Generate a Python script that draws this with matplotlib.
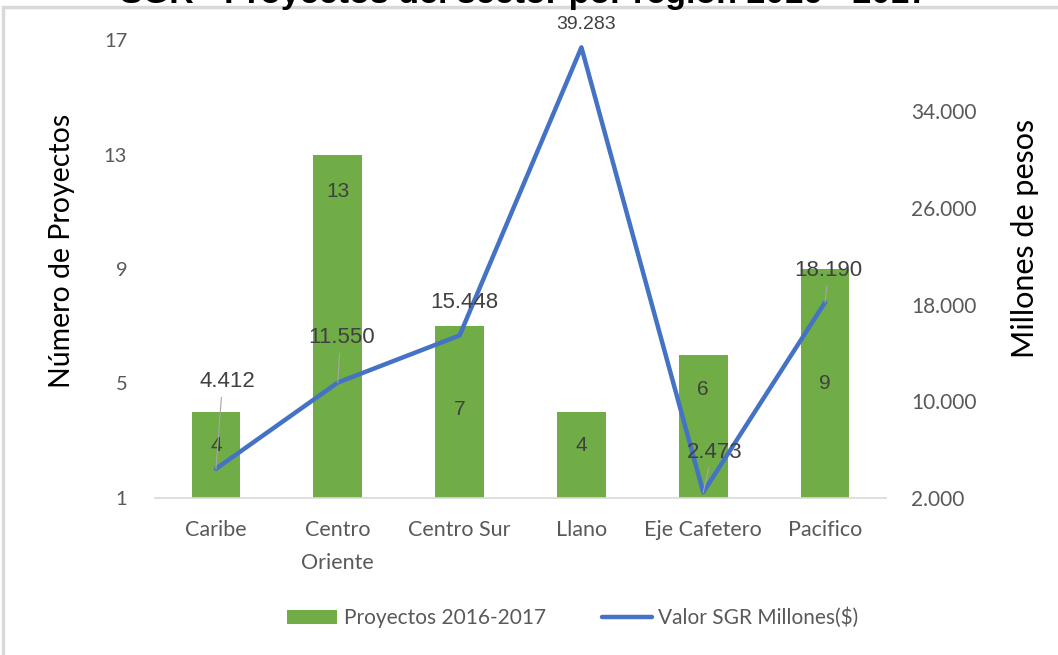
import matplotlib
matplotlib.use("Agg")
import matplotlib.pyplot as plt
from matplotlib.patches import Rectangle
import numpy as np

categories = ["Caribe", "Centro\nOriente", "Centro Sur", "Llano", "Eje Cafetero", "Pacifico"]
proyectos = [4, 13, 7, 4, 6, 9]
valor_sgr = [4412, 11550, 15448, 39283, 2473, 18190]
valor_labels = ["4.412", "11.550", "15.448", "39.283", "2.473", "18.190"]
left_ticks = [1, 5, 9, 13, 17]
right_ticks = [2000, 10000, 18000, 26000, 34000]
right_tick_labels = ["2.000", "10.000", "18.000", "26.000", "34.000"]

GREEN = "#70AD47"
BLUE = "#4472C4"
GRAY = "#595959"
TXT = "#404040"
FONT = ["Lato", "DejaVu Sans"]
NUMFONT = ["Liberation Sans", "DejaVu Sans"]

fig = plt.figure(figsize=(10.58, 6.55), dpi=100)

# chart border (frame partly outside the picture)
fig.patches.append(Rectangle((3 / 1058, -0.1), 1.2, 1 - 7 / 655 + 0.1,
                             transform=fig.transFigure, fill=False,
                             edgecolor="#D9D9D9", linewidth=2.5, zorder=0))

# clipped title
fig.text(524 / 1058, 1 - 3 / 655, "SGR - Proyectos del sector por región 2016 - 2017",
         ha="center", va="baseline", fontsize=24.5, fontweight="bold",
         family=["Liberation Sans", "DejaVu Sans"], color="black")

ax = fig.add_axes([155 / 1058, 1 - 498 / 655, (886 - 155) / 1058, (498 - 40) / 655])
ax2 = ax.twinx()

x = np.arange(len(categories))
ax.bar(x, proyectos, width=0.4, color=GREEN, zorder=2, label="Proyectos 2016-2017")
ax.set_ylim(1, 17)
ax.set_xlim(-0.5, len(categories) - 0.5)
ax.set_yticks(left_ticks)
ax.set_xticks(x)
ax.set_xticklabels(categories, family=FONT, fontsize=15.5, color=GRAY, linespacing=1.8)
for lab in ax.get_yticklabels():
    lab.set_family(FONT)
    lab.set_fontsize(14.5)
    lab.set_color(GRAY)
ax.tick_params(axis="both", length=0)
ax.tick_params(axis="y", pad=20)
ax.tick_params(axis="x", pad=16)
for s in ["top", "right", "left"]:
    ax.spines[s].set_visible(False)
ax.spines["bottom"].set_color("#D9D9D9")
ax.spines["bottom"].set_linewidth(1.2)

ax2.plot(x, valor_sgr, color=BLUE, linewidth=3.2, zorder=3,
         solid_capstyle="round", solid_joinstyle="round", label="Valor SGR Millones($)")
ax2.set_ylim(2000, 2000 + 8000 * (458 / 96.7))
ax2.set_yticks(right_ticks)
ax2.set_yticklabels(right_tick_labels, family=FONT, fontsize=15, color=GRAY)
ax2.tick_params(axis="y", length=0, pad=18)
for s in ["top", "right", "left", "bottom"]:
    ax2.spines[s].set_visible(False)

ax.set_zorder(1)
ax2.set_zorder(2)
ax.patch.set_visible(False)

# bar labels (positions in data units as placed in the original)
bar_label_y = [2.85, 11.7, 4.1, 2.85, 4.8, 5.0]
for xi, v, yy in zip(x, proyectos, bar_label_y):
    ax.text(xi, yy, str(v), ha="center", va="center", fontsize=15,
            family=NUMFONT, color=TXT, zorder=5)

# line labels with leader lines (offset in data units)
lab_off = [(0.09, 7200), (0.03, 3720), (0.04, 2730), (0.04, 1900), (0.09, 3300), (0.03, 2650)]
lab_size = [16, 16, 16, 14, 16, 16]
leader = [True, True, False, False, True, True]
for xi, v, lbl, (dx, dy), fs, ld in zip(x, valor_sgr, valor_labels, lab_off, lab_size, leader):
    ax2.text(xi + dx, v + dy, lbl, ha="center", va="center", fontsize=fs,
             family=NUMFONT, color=TXT, zorder=6)
    if ld:
        ax2.plot([xi, xi + dx * 0.5], [v, v + dy - 1300], color="#A6A6A6",
                 linewidth=0.8, zorder=4)

fig.text(62 / 1058, 1 - 251 / 655, "Número de Proyectos", rotation=90,
         ha="center", va="center", fontsize=20.5, family=FONT, color="black")
fig.text(1025 / 1058, 1 - 238 / 655, "Millones de pesos", rotation=90,
         ha="center", va="center", fontsize=22, family=FONT, color="black")

h1, l1 = ax.get_legend_handles_labels()
h2, l2 = ax2.get_legend_handles_labels()
fig.legend(h1 + h2, l1 + l2, loc="center", bbox_to_anchor=(573 / 1058, 1 - 618 / 655),
           ncol=2, frameon=False, prop={"family": FONT, "size": 15},
           labelcolor=GRAY, handlelength=2.4, handletextpad=0.3, columnspacing=2.7)

fig.savefig("out.png", dpi=100)
